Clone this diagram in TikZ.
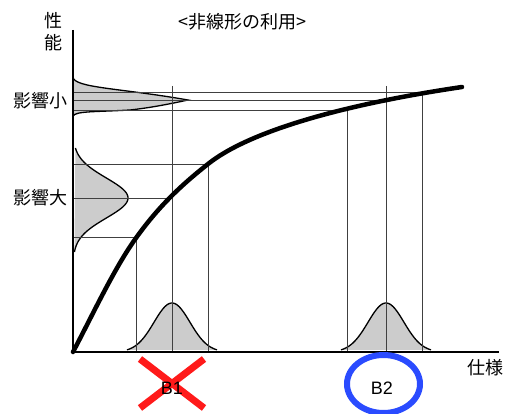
\documentclass[tikz,border=0pt]{standalone}
\usepackage{fontspec}
\setmainfont{Liberation Sans}
\newfontfamily\jp{Noto Sans CJK JP}
\definecolor{distgray}{HTML}{CCCCCC}
\definecolor{xred}{HTML}{FF1A1A}
\definecolor{oblue}{HTML}{2A4BFF}
\begin{document}
\begin{tikzpicture}[x=1pt,y=-1pt,
  guide/.style={line width=0.9pt, black!75},
  axisline/.style={line width=2pt, black},
  distfill/.style={fill=distgray},
  distline/.style={line width=1.3pt, black},
  jplabel/.style={font=\jp\fontsize{18}{18}\selectfont, inner sep=0pt},
  blabel/.style={font=\fontsize{18}{18}\selectfont, inner sep=0pt}]
\useasboundingbox (0,0) rectangle (512,414);
% bottom distributions
\fill[distfill] plot[domain=-45:45, samples=80] ({172+\x},{352-49*exp(-(\x*\x)/(2*18*18))}) -- cycle;
\draw[distline] plot[domain=-45:45, samples=80] ({172+\x},{352-49*exp(-(\x*\x)/(2*18*18))});
\fill[distfill] plot[domain=-45:45, samples=80] ({386+\x},{352-49*exp(-(\x*\x)/(2*18*18))}) -- cycle;
\draw[distline] plot[domain=-45:45, samples=80] ({386+\x},{352-49*exp(-(\x*\x)/(2*18*18))});
% left distributions
\fill[distfill] (73,77) .. controls (74,88) and (120,88) .. (188,100)
  .. controls (165,105) and (148,108) .. (130,110) .. controls (95,112) and (76,111) .. (73,116) -- cycle;
\draw[distline] (73,77) .. controls (74,88) and (120,88) .. (188,100)
  .. controls (165,105) and (148,108) .. (130,110) .. controls (95,112) and (76,111) .. (73,116);
\fill[distfill] plot[domain=-50:54, samples=100] ({73+55*exp(-(\x*\x)/(2*20*20))},{198+\x}) -- cycle;
\draw[distline] plot[domain=-50:54, samples=100] ({73+55*exp(-(\x*\x)/(2*20*20))},{198+\x});
% guide lines
\coordinate (o) at (73,352);
\draw[guide] (73,92) -- (422,92);
\draw[guide] (73,100) -- (386,100);
\draw[guide] (73,110) -- (347,110);
\draw[guide] (73,164) -- (208,164);
\draw[guide] (73,198) -- (172,198);
\draw[guide] (73,237) -- (136,237);
\draw[guide] (172,86) -- (172,352);
\draw[guide] (208,164) -- (208,352);
\draw[guide] (136,237) -- (136,352);
\draw[guide] (347,110) -- (347,352);
\draw[guide] (386,86) -- (386,352);
\draw[guide] (422,92) -- (422,352);
% axes
\coordinate (ytop) at (73,30);
\coordinate (xend) at (499,352);
\draw[axisline] (ytop) -- (o) -- (xend);
% curve
\coordinate (c1) at (136,238);
\coordinate (mid) at (208,164);
\coordinate (cend) at (462,87);
\draw[line width=4.5pt, line cap=round] (o) .. controls (94,312) and (115,267) .. (c1)
  .. controls (160,204.4) and (184,183) .. (mid)
  .. controls (248,132) and (340,105) .. (cend);
% labels
\node[jplabel] (title) at (242,22) {<非線形の利用>};
\node[jplabel] (sei) at (54,21) {性};
\node[jplabel] (nou) at (54,43) {能};
\node[jplabel] (small) at (40,101) {影響小};
\node[jplabel] (large) at (40,198) {影響大};
\node[jplabel] (spec) at (485,368) {仕様};
% marks
\draw[xred, line width=7pt] (140,359) -- (204,408);
\draw[xred, line width=7pt] (204,359) -- (140,408);
\node[blabel] (b1) at (172,388) {B1};
\draw[oblue, line width=6pt] (383.5,384) ellipse [x radius=36.5, y radius=29];
\node[blabel] (b2) at (382,388) {B2};
\end{tikzpicture}
\end{document}
